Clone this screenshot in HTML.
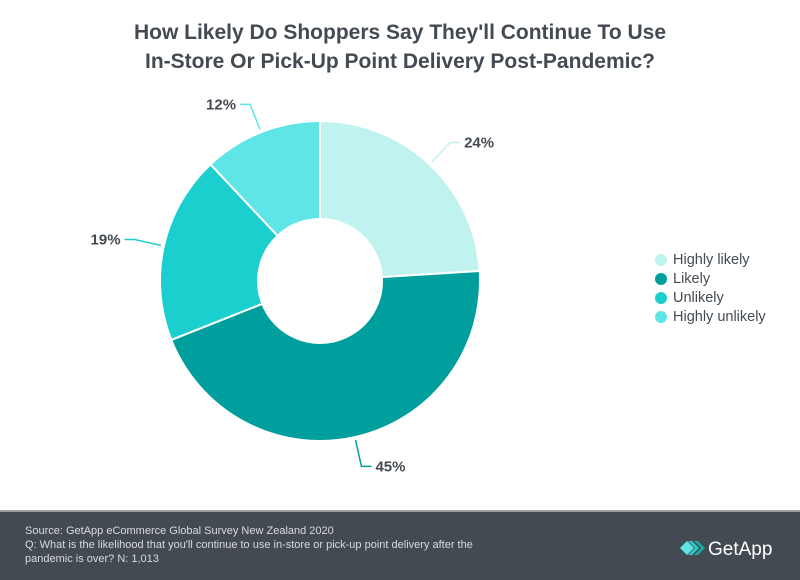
<!DOCTYPE html>
<html><head><meta charset="utf-8"><style>
body{margin:0;width:800px;height:580px;background:#fff;font-family:"Liberation Sans",sans-serif;overflow:hidden;position:relative}
.title{position:absolute;top:18px;left:0;width:800px;text-align:center;font-weight:bold;font-size:21px;line-height:29px;color:#444a52}
.footer{position:absolute;left:0;top:510px;width:800px;height:70px;background:#444a52;border-top:2px solid #9aa0a0;box-sizing:border-box}
.ft{position:absolute;left:25px;top:12px;color:#d8dbde;font-size:11px;line-height:14px}
.legend{position:absolute;left:655px;top:250px;font-size:14.5px;color:#444a52}
.li{display:flex;align-items:center;height:19px}
.dot{width:12px;height:12px;border-radius:50%;margin-right:6px}
</style></head><body>
<div class="title">How Likely Do Shoppers Say They'll Continue To Use<br>In-Store Or Pick-Up Point Delivery Post-Pandemic?</div>
<svg id="chart" width="800" height="510" style="position:absolute;left:0;top:0"></svg>
<div class="legend">
<div class="li"><span class="dot" style="background:#c0f2f0"></span>Highly likely</div>
<div class="li"><span class="dot" style="background:#009e9c"></span>Likely</div>
<div class="li"><span class="dot" style="background:#1ccfcf"></span>Unlikely</div>
<div class="li"><span class="dot" style="background:#5ee6e6"></span>Highly unlikely</div>
</div>
<div class="footer">
<div class="ft">Source: GetApp eCommerce Global Survey New Zealand 2020<br>Q: What is the likelihood that you'll continue to use in-store or pick-up point delivery after the<br>pandemic is over? N: 1,013</div>
<svg style="position:absolute;left:680px;top:26px" width="100" height="26">
<polygon points="0,10 7,3 14,10 7,17" fill="#5ee6e6"/><polygon points="8,3 12,3 19,10 12,17 8,17 15,10" fill="#2fc9c6"/><polygon points="14,3 18,3 25,10 18,17 14,17 21,10" fill="#1aa8a6"/>
<text x="28" y="17" fill="#fff" font-size="19" font-family="Liberation Sans, sans-serif">GetApp</text></svg>
</div>
<script>
const categories=["Highly likely","Likely","Unlikely","Highly unlikely"];
const values=[24,45,19,12];
const labels=["24%","45%","19%","12%"];
const colors=["#c0f2f0","#009e9c","#1ccfcf","#5ee6e6"];
const svg=document.getElementById('chart');const NS="http://www.w3.org/2000/svg";
const cx=320,cy=281,R=160,r=62;
const total=values.reduce((a,b)=>a+b,0);
function pt(a,rad){return [cx+rad*Math.sin(a),cy-rad*Math.cos(a)];}
let acc=0;
values.forEach((v,i)=>{
 const a0=acc/total*2*Math.PI,a1=(acc+v)/total*2*Math.PI;acc+=v;
 const lg=(a1-a0)>Math.PI?1:0;
 const p0=pt(a0,R),p1=pt(a1,R),q1=pt(a1,r),q0=pt(a0,r);
 const p=document.createElementNS(NS,'path');
 p.setAttribute('d',`M${p0}L${p0} A${R},${R} 0 ${lg} 1 ${p1} L${q1} A${r},${r} 0 ${lg} 0 ${q0}Z`);
 p.setAttribute('fill',colors[i]);p.setAttribute('stroke','#fff');p.setAttribute('stroke-width','2');
 
 
 svg.appendChild(p);
 const m=(a0+a1)/2;const s=pt(m,R+3),e=pt(m,R+30);
 const right=Math.sin(m)>=0;
 const l=document.createElementNS(NS,'path');
 l.setAttribute('d',`M${s}L${e}L${e[0]+(right?10:-10)},${e[1]}`);
 l.setAttribute('stroke',colors[i]);l.setAttribute('fill','none');l.setAttribute('stroke-width','1.5');
 
 
 svg.appendChild(l);
 const tx=document.createElementNS(NS,'text');
 tx.setAttribute('x',e[0]+(right?14:-14));tx.setAttribute('y',e[1]+5);
 tx.setAttribute('text-anchor',right?'start':'end');
 tx.setAttribute('font-size','15');tx.setAttribute('font-weight','bold');tx.setAttribute('fill','#444a52');
 tx.setAttribute('font-family','Liberation Sans, sans-serif');
 tx.textContent=labels[i];
 
 
 svg.appendChild(tx);
});
</script>
</body></html>
